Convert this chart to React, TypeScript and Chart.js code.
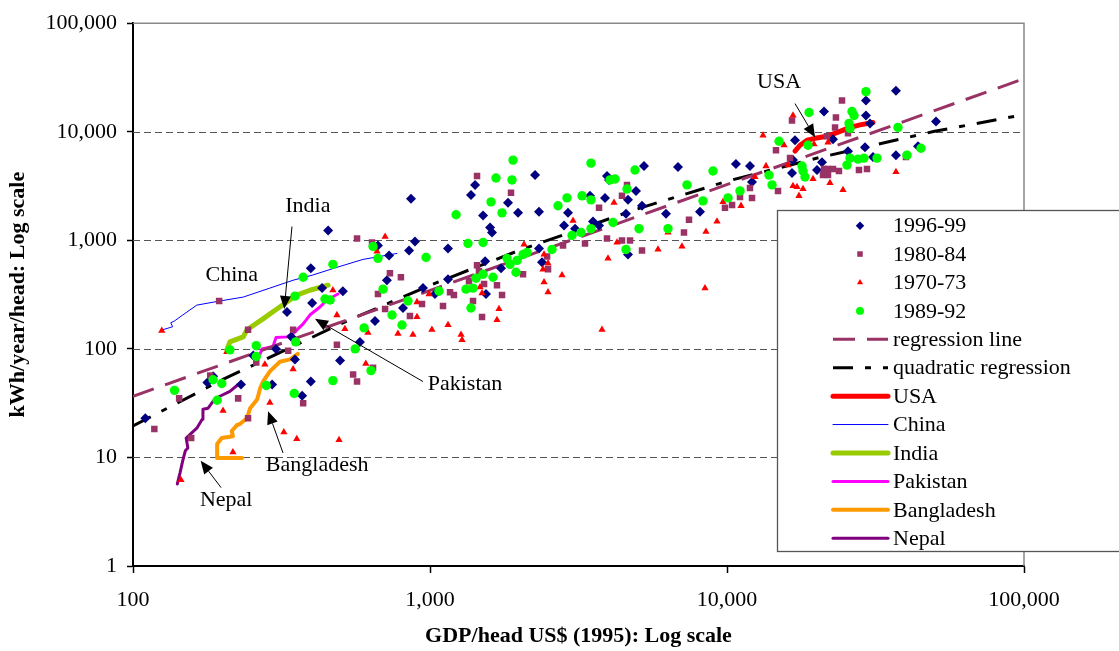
import { useEffect, useRef } from "react";
import { Chart, registerables } from "chart.js";

Chart.register(...registerables);

type Pt = [number, number];

// [GDP/head US$ (1995), kWh/year/head]
const countries9699: Pt[] = [
  [454, 1230], [668, 897], [728, 726], [397, 552], [433, 363], [509, 340], [401, 264], [330, 219],
  [716, 429], [653, 181], [341, 129], [581, 116], [303, 100], [254, 87], [351, 80], [498, 78],
  [397, 50], [178, 49], [186, 56], [231, 47], [294, 47], [371, 37], [110, 23],
  [863, 2410], [890, 975], [850, 807], [1150, 842], [1374, 2620], [1418, 3240], [1509, 1690],
  [1593, 1310], [1617, 1180], [1831, 2220], [1979, 1790], [2258, 3990], [2328, 1830], [2827, 1370],
  [2915, 1790], [3079, 1280], [3457, 2570], [3539, 1490], [3708, 1370], [3884, 2460], [3944, 3910],
  [4006, 3600], [4570, 1760], [4642, 2360], [4938, 2850], [5174, 2080], [5255, 4830], [4642, 741],
  [6231, 1760], [6839, 4730], [8111, 1830], [10720, 5040], [11950, 4830], [12140, 3450], [2328, 842],
  [2383, 627], [1533, 640], [1735, 552], [1150, 438], [1039, 320], [947, 363], [811, 238], [1544, 320],
  [16940, 8350], [21210, 15380], [22750, 8530], [20890, 5250], [20090, 4440], [16550, 4170],
  [16680, 5480], [25550, 6620], [37060, 23900], [29370, 19360], [29370, 14120], [30300, 11940],
  [29150, 7200], [37060, 6090], [31010, 5840], [43960, 7360], [50540, 12450],
];

const countries8084: Pt[] = [
  [568, 1040], [638, 955], [733, 498], [668, 320], [706, 233], [195, 276], [244, 150], [346, 150],
  [486, 109], [333, 96], [260, 75], [182, 57], [551, 58], [568, 50], [643, 67], [374, 31.6],
  [226, 35], [143, 35], [244, 23], [118, 18.3], [157, 15.1],
  [1440, 3910], [1874, 2740], [2478, 711], [2497, 541], [2057, 487], [1681, 386], [1748, 313],
  [1521, 395], [1462, 519], [1440, 589], [1353, 420], [1396, 276], [1168, 333], [1204, 313],
  [1106, 248], [940, 259], [856, 201], [798, 457], [2805, 897], [3326, 935], [3708, 2000],
  [3944, 1040], [4430, 995], [4715, 995], [5174, 807], [4430, 2570], [4606, 3240], [7448, 1550],
  [7164, 1180], [9845, 2000], [10400, 2120], [11060, 2510], [12140, 2460], [11950, 3040],
  [14620, 6760], [14850, 2850], [16300, 5720], [16550, 12710], [24390, 19360], [23270, 13550],
  [23110, 10970], [25550, 9670], [21710, 9080], [21210, 4530], [21880, 4530], [22750, 4530],
  [21050, 3990], [21880, 3990], [23820, 4350], [1497, 197], [29600, 4530], [27820, 4440], [40050, 5840],
];

const countries7073: Pt[] = [
  [706, 1080], [663, 790], [125, 147], [471, 347], [486, 205], [517, 153], [618, 141], [780, 138],
  [207, 94], [278, 72], [346, 65], [608, 73], [289, 32], [201, 27], [145, 6.2], [217, 11.2],
  [322, 17.1], [356, 14.8], [494, 14.5], [876, 135], [1272, 135], [1282, 121],
  [13220, 9270], [15560, 7510], [16680, 14120], [13530, 4830], [12420, 3830], [9693, 2260],
  [11150, 2080], [9253, 1490], [8496, 1200], [7054, 878], [5857, 824], [6329, 1180], [4164, 2220],
  [4262, 955], [3975, 682], [3031, 1520], [2073, 916], [2421, 741], [2497, 614], [2402, 541],
  [2421, 411], [2497, 333], [2783, 477], [1474, 370], [1497, 326], [1707, 233], [1681, 185],
  [1150, 166], [1015, 150], [904, 270], [904, 197], [993, 320], [3794, 150], [8431, 363],
  [16680, 3170], [17210, 3100], [18030, 2970], [17470, 2570], [19630, 7670], [21880, 8000],
  [19480, 3670], [22220, 3380], [24580, 2910], [16050, 4930], [37060, 4260],
];

const countries8992: Pt[] = [
  [643, 878], [668, 682], [471, 601], [374, 457], [351, 306], [443, 288], [461, 282], [695, 355],
  [745, 205], [600, 156], [212, 98], [260, 107], [260, 85], [353, 116], [560, 100], [633, 63],
  [471, 51], [186, 52], [199, 48], [281, 46], [138, 41.5], [192, 33.6], [349, 38.9],
  [1903, 5480], [1668, 3750], [1888, 3600], [3484, 5140], [1224, 1720], [1605, 2260], [1748, 1790],
  [1343, 935], [1509, 955], [970, 697], [2892, 2460], [2698, 2080], [3250, 2570], [3484, 2360],
  [4037, 3600], [4197, 3670], [4901, 4440], [4606, 2970], [8970, 4350], [7333, 3240], [8301, 2310],
  [10080, 2460], [11060, 2850], [13850, 3990], [14180, 3240], [14970, 8170], [18890, 15050],
  [18740, 7510], [17890, 4830], [18030, 4350], [18310, 3830], [4132, 1460], [5055, 1280],
  [6329, 1280], [4570, 824], [3484, 1280], [3224, 1180], [3008, 1110], [2575, 824], [2121, 773],
  [2057, 741], [1964, 653], [1817, 682], [1860, 601], [1948, 508], [1630, 457], [1509, 487],
  [1429, 448], [1322, 355], [1396, 363], [1072, 340], [843, 276], [1374, 238], [805, 166],
  [25350, 4930], [25750, 11940], [29370, 23400], [26350, 15380], [26770, 14120], [25950, 10740],
  [37640, 10970], [25950, 5720], [27610, 5600], [28920, 5720], [31990, 5720], [40370, 6090],
  [44980, 7050],
];

const regressionLine: Pt[] = [[100, 36.6], [100000, 30800]];
const quadraticRegression: Pt[] = [
  [100, 19.5], [200, 52], [500, 170], [1000, 385], [2000, 810], [5000, 1950],
  [10000, 3500], [20000, 5700], [50000, 10100], [100000, 14400],
];

const usaPath: Pt[] = [
  [16940, 6620], [17610, 7510], [18600, 8350], [19790, 8700], [21710, 9080],
  [24020, 10090], [25950, 10970], [28040, 11570], [31010, 12190],
];
const chinaPath: Pt[] = [
  [126, 150], [136, 160], [134, 174], [138, 181], [147, 205], [164, 253], [196, 276],
  [235, 300], [289, 363], [346, 429], [401, 477], [486, 564], [595, 667], [774, 757],
];
const indiaPath: Pt[] = [
  [207, 98], [212, 116], [235, 129], [242, 150], [274, 189], [305, 233], [330, 270],
  [356, 313], [394, 347], [454, 386],
];
const pakistanPath: Pt[] = [
  [268, 90], [272, 100], [296, 105], [303, 127], [330, 129], [346, 138], [374, 170],
  [394, 205], [426, 243], [450, 282], [490, 320],
];
const bangladeshPath: Pt[] = [
  [233, 9.9], [192, 9.9], [192, 13.3], [199, 15.1], [217, 15.7], [215, 17.5], [224, 19.9],
  [229, 20.3], [242, 23], [248, 28.4], [262, 34.3], [268, 43.3], [274, 50], [289, 62],
  [312, 76], [338, 80], [359, 90],
];
const nepalPath: Pt[] = [
  [141, 5.7], [144, 7.2], [147, 9.3], [150, 11.5], [153, 12.2], [151, 15.1], [156, 16.4],
  [164, 18.6], [171, 22.5], [172, 27.8], [179, 28.4], [186, 32.9], [196, 36.6], [212, 40.6], [226, 47],
];

const xTicks = [100, 1000, 10000, 100000];
const yTicks = [1, 10, 100, 1000, 10000, 100000];

// country names and arrows, placed in data space
const countryLabels: { text: string; at: Pt }[] = [
  { text: "USA", at: [14970, 28300] },
  { text: "India", at: [388, 2080] },
  { text: "China", at: [215, 477] },
  { text: "Pakistan", at: [1312, 47] },
  { text: "Bangladesh", at: [417, 8.56] },
  { text: "Nepal", at: [206, 4.0] },
];
const arrows: { from: Pt; to: Pt }[] = [
  { from: [16940, 18190], to: [19790, 8890] },
  { from: [343, 1340], to: [323, 233] },
  { from: [947, 50], to: [410, 189] },
  { from: [320, 11.0], to: [285, 26.7] },
  { from: [198, 5.27], to: [169, 9.31] },
];

const FONT = "'Liberation Serif', 'Times New Roman', serif";

const toXY = (pts: Pt[]) => pts.map(([x, y]) => ({ x, y }));

function drawMarker(ctx: CanvasRenderingContext2D, style: string, x: number, y: number, r: number) {
  ctx.beginPath();
  if (style === "rectRot") {
    ctx.moveTo(x - r, y);
    ctx.lineTo(x, y - r);
    ctx.lineTo(x + r, y);
    ctx.lineTo(x, y + r);
  } else if (style === "rect") {
    const s = r * Math.SQRT1_2;
    ctx.rect(x - s, y - s, 2 * s, 2 * s);
  } else if (style === "triangle") {
    ctx.moveTo(x, y - r);
    ctx.lineTo(x + r * 0.866, y + r * 0.5);
    ctx.lineTo(x - r * 0.866, y + r * 0.5);
  } else {
    ctx.arc(x, y, r, 0, Math.PI * 2);
  }
  ctx.closePath();
  ctx.fill();
}

const plotFrame = {
  id: "plotFrame",
  beforeDatasetsDraw(chart: any) {
    const { ctx, chartArea } = chart;
    const yScale = chart.scales.y;
    ctx.save();
    ctx.strokeStyle = "#555";
    ctx.lineWidth = 1;
    ctx.setLineDash([7, 4]);
    yTicks.slice(1, -1).forEach(v => {
      const py = Math.round(yScale.getPixelForValue(v)) + 0.5;
      ctx.beginPath();
      ctx.moveTo(chartArea.left, py);
      ctx.lineTo(chartArea.right, py);
      ctx.stroke();
    });
    ctx.setLineDash([]);
    ctx.strokeStyle = "#888";
    ctx.lineWidth = 1.5;
    ctx.beginPath();
    ctx.moveTo(chartArea.left, chartArea.top);
    ctx.lineTo(chartArea.right, chartArea.top);
    ctx.lineTo(chartArea.right, chartArea.bottom);
    ctx.stroke();
    ctx.restore();
  },
};

const annotations = {
  id: "annotations",
  afterDatasetsDraw(chart: any) {
    const { ctx } = chart;
    const sx = chart.scales.x;
    const sy = chart.scales.y;
    ctx.save();
    ctx.fillStyle = "#000";
    ctx.strokeStyle = "#000";
    ctx.lineWidth = 1;
    arrows.forEach(({ from, to }) => {
      const x1 = sx.getPixelForValue(from[0]);
      const y1 = sy.getPixelForValue(from[1]);
      const x2 = sx.getPixelForValue(to[0]);
      const y2 = sy.getPixelForValue(to[1]);
      const a = Math.atan2(y2 - y1, x2 - x1);
      const len = 13;
      const half = 5.5;
      const bx = x2 - len * Math.cos(a);
      const by = y2 - len * Math.sin(a);
      ctx.beginPath();
      ctx.moveTo(x1, y1);
      ctx.lineTo(bx, by);
      ctx.stroke();
      ctx.beginPath();
      ctx.moveTo(x2, y2);
      ctx.lineTo(bx + half * Math.sin(a), by - half * Math.cos(a));
      ctx.lineTo(bx - half * Math.sin(a), by + half * Math.cos(a));
      ctx.closePath();
      ctx.fill();
    });
    ctx.font = `22px ${FONT}`;
    ctx.textAlign = "center";
    ctx.textBaseline = "middle";
    countryLabels.forEach(({ text, at }) => {
      ctx.fillText(text, sx.getPixelForValue(at[0]), sy.getPixelForValue(at[1]));
    });
    ctx.restore();
  },
};

const boxLegend = {
  id: "boxLegend",
  afterDraw(chart: any) {
    const { ctx } = chart;
    const left = 777;
    const top = 210;
    const bottom = 551;
    const rowH = (bottom - top) / chart.data.datasets.length;
    ctx.save();
    ctx.fillStyle = "#fff";
    ctx.fillRect(left, top, chart.width - left + 5, bottom - top);
    ctx.strokeStyle = "#555";
    ctx.lineWidth = 1.3;
    ctx.strokeRect(left + 0.5, top + 0.5, chart.width, bottom - top);
    ctx.font = `22px ${FONT}`;
    ctx.textBaseline = "middle";
    ctx.textAlign = "left";
    chart.data.datasets.forEach((ds: any, i: number) => {
      const y = top + rowH * (i + 0.55);
      if (ds.showLine) {
        ctx.save();
        ctx.strokeStyle = ds.borderColor;
        ctx.lineWidth = ds.borderWidth;
        ctx.setLineDash(ds.borderDash || []);
        ctx.lineCap = ds.borderDash ? "butt" : "round";
        ctx.beginPath();
        ctx.moveTo(833, y);
        ctx.lineTo(888, y);
        ctx.stroke();
        ctx.restore();
      } else {
        ctx.fillStyle = ds.pointBackgroundColor;
        drawMarker(ctx, ds.pointStyle, 860, y, ds.pointRadius * 0.85);
      }
      ctx.fillStyle = "#000";
      ctx.fillText(ds.label, 893, y + 1);
    });
    ctx.restore();
  },
};

function markerSet(label: string, pts: Pt[], color: string, style: string, radius: number, order: number) {
  return {
    label,
    data: toXY(pts),
    showLine: false,
    pointStyle: style,
    pointRadius: radius,
    pointBackgroundColor: color,
    backgroundColor: color,
    borderColor: color,
    pointBorderWidth: 0,
    order,
  };
}

function lineSet(label: string, pts: Pt[], color: string, width: number, dash?: number[]) {
  return {
    label,
    data: toXY(pts),
    showLine: true,
    borderColor: color,
    borderWidth: width,
    borderDash: dash,
    borderCapStyle: dash ? "butt" : "round",
    borderJoinStyle: "round",
    pointRadius: 0,
    tension: 0,
    fill: false,
    order: 5,
  };
}

export default function App() {
  const canvasRef = useRef<HTMLCanvasElement>(null);
  const chartRef = useRef<Chart | null>(null);

  useEffect(() => {
    document.body.style.margin = "0";
    if (!canvasRef.current) return;
    if (chartRef.current) chartRef.current.destroy();

    const tickFont = { family: FONT, size: 22 };
    const titleFont = { family: FONT, size: 22, weight: "bold" as const };
    const fmt = (v: number | string) => Number(v).toLocaleString("en-US");

    chartRef.current = new Chart(canvasRef.current, {
      type: "scatter",
      data: {
        datasets: [
          markerSet("1996-99", countries9699, "#000080", "rectRot", 5, 3),
          markerSet("1980-84", countries8084, "#993366", "rect", 4.6, 2),
          markerSet("1970-73", countries7073, "#ff0000", "triangle", 4.2, 1),
          markerSet("1989-92", countries8992, "#00ff00", "circle", 4.7, 0),
          lineSet("regression line", regressionLine, "#993366", 3, [22, 12]),
          lineSet("quadratic regression", quadraticRegression, "#000000", 3, [20, 12, 6, 12]),
          lineSet("USA", usaPath, "#ff0000", 5),
          lineSet("China", chinaPath, "#0000ff", 1),
          lineSet("India", indiaPath, "#99cc00", 5),
          lineSet("Pakistan", pakistanPath, "#ff00ff", 3),
          lineSet("Bangladesh", bangladeshPath, "#ff9900", 4),
          lineSet("Nepal", nepalPath, "#800080", 3),
        ] as any,
      },
      options: {
        animation: false,
        responsive: true,
        maintainAspectRatio: false,
        layout: { padding: { top: 19, right: 95, left: 0, bottom: 0 } },
        plugins: {
          legend: { display: false },
          tooltip: { enabled: false },
        },
        scales: {
          x: {
            type: "logarithmic",
            min: 100,
            max: 100000,
            afterBuildTicks: (axis: any) => {
              axis.ticks = xTicks.map(value => ({ value }));
            },
            afterFit: (axis: any) => {
              axis.height = 85;
            },
            ticks: { callback: fmt, font: tickFont, color: "#000", padding: 14, autoSkip: false, maxRotation: 0 },
            grid: { drawOnChartArea: false, drawTicks: true, tickLength: 7, tickColor: "#000", tickWidth: 1.5 },
            border: { color: "#000", width: 2 },
            title: {
              display: true,
              text: "GDP/head US$ (1995): Log scale",
              font: titleFont,
              color: "#000",
              padding: { top: 0, bottom: 1 },
            },
          },
          y: {
            type: "logarithmic",
            min: 1,
            max: 100000,
            afterBuildTicks: (axis: any) => {
              axis.ticks = yTicks.map(value => ({ value }));
            },
            afterFit: (axis: any) => {
              axis.width = 133;
            },
            ticks: { callback: fmt, font: tickFont, color: "#000", padding: 10, autoSkip: false },
            grid: { drawOnChartArea: false, drawTicks: true, tickLength: 6, tickColor: "#000", tickWidth: 1.5 },
            border: { color: "#000", width: 2 },
            title: {
              display: true,
              text: "kWh/year/head: Log scale",
              font: titleFont,
              color: "#000",
              padding: { top: 5, bottom: 0 },
            },
          },
        },
      } as any,
      plugins: [plotFrame, annotations, boxLegend],
    });

    return () => {
      if (chartRef.current) {
        chartRef.current.destroy();
        chartRef.current = null;
      }
    };
  }, []);

  return (
    <div style={{ width: 1119, height: 651, position: "relative" }}>
      <canvas ref={canvasRef} />
    </div>
  );
}
